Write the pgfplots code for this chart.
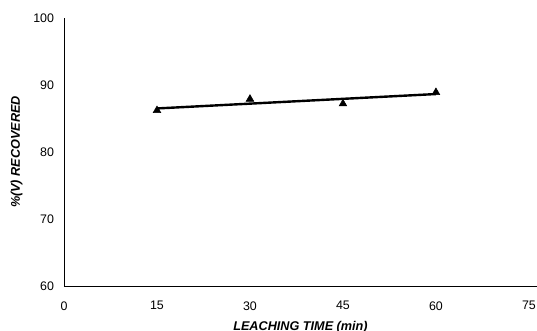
\documentclass[border=0pt]{standalone}
\usepackage{pgfplots}
\pgfplotsset{compat=1.18}
\usepackage{fontspec}
\setmainfont{Liberation Sans}
\begin{document}
\begin{tikzpicture}
\begin{axis}[
  scale only axis,
  width=354.75pt, height=201pt,
  xmin=0, xmax=76.3, ymin=60, ymax=100,
  axis x line=bottom, axis y line=left,
  axis line style={-, line width=0.7pt},
  xtick={0,15,30,45,60,75}, ytick={60,70,80,90,100},
  major tick length=0pt,
  /pgf/number format/assume math mode=true,
  tick label style={font=\fontsize{9.3}{10}\selectfont},
  xticklabel style={yshift=-8pt},
  yticklabel style={xshift=-4pt},
  xlabel={LEACHING TIME (min)},
  ylabel={\%(V) RECOVERED},
  label style={font=\fontsize{9.5}{11}\selectfont\bfseries\itshape},
  x label style={at={(axis description cs:0.5,-0.152)}, anchor=center},
  y label style={at={(axis description cs:-0.1,0.5)}, anchor=center},
  clip=false,
]
\addplot[black, line width=1.8pt, no markers] coordinates {(15,86.5) (60,88.65)};
\addplot[only marks, mark=triangle*, mark size=3.3pt, black] coordinates {
  (15,86.2) (30,87.9) (45,87.2) (60,88.9)};
\end{axis}
\pgfresetboundingbox
\path (-48pt,-33.75pt) rectangle (354.75pt,214.5pt);
\end{tikzpicture}
\end{document}
